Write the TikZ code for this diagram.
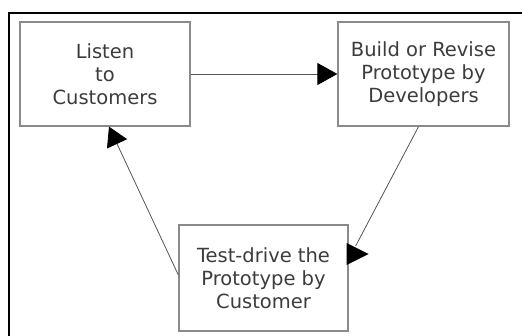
\documentclass[tikz,border=0pt]{standalone}
\usepackage{fontspec}
\setmainfont{DejaVu Sans}
\usetikzlibrary{arrows.meta,calc}
\definecolor{boxgray}{HTML}{8A8A8A}
\definecolor{txtgray}{HTML}{3C3C3C}
\definecolor{linegray}{HTML}{555555}
\tikzset{
  stepbox/.style={draw=boxgray, line width=1.3pt, fill=white, inner sep=0pt,
    align=center, text=txtgray, font=\fontsize{19.5}{23}\selectfont},
  conn/.style={draw=linegray, line width=0.8pt},
  tipfill/.style={fill=black, draw=none}
}
\begin{document}
\begin{tikzpicture}[x=1pt,y=-1pt]
\useasboundingbox (0,0) rectangle (522,336);
\fill[white] (0,0) rectangle (522,336);
% outer frame (cropped)
\draw[line width=2pt, black] (9,336) -- (9,13) -- (522,13);
% boxes
\node[stepbox, minimum width=170pt, minimum height=104pt] (b1) at (105,74) {Listen\\to\\Customers};
\node[stepbox, minimum width=171pt, minimum height=104pt] (b2) at (423.5,74) {Build or Revise\\Prototype by\\Developers};
\node[stepbox, minimum width=169pt, minimum height=106pt] (b3) at (263.5,278) {Test-drive the\\Prototype by\\Customer};
% connector 1
\draw[conn, -{Triangle[length=20pt,width=22pt,fill=black,color=black]}] (b1.east) -- (b2.west);
% connector 2
\coordinate (c2) at ($(b3.east)+(7,-32)$);
\draw[conn] ($(b2.south)+(-5,0)$) -- (c2);
\fill[tipfill] ($(b3.east)+(-2,-35)$) -- ($(b3.east)+(20,-24)$) -- ($(b3.east)+(-2,-13)$) -- cycle;
% connector 3
\draw[conn, -{Triangle[length=19pt,width=22pt,fill=black,color=black]}] ($(b3.west)+(0,-3)$) -- ($(b1.south)+(4,0)$);
\end{tikzpicture}
\end{document}
